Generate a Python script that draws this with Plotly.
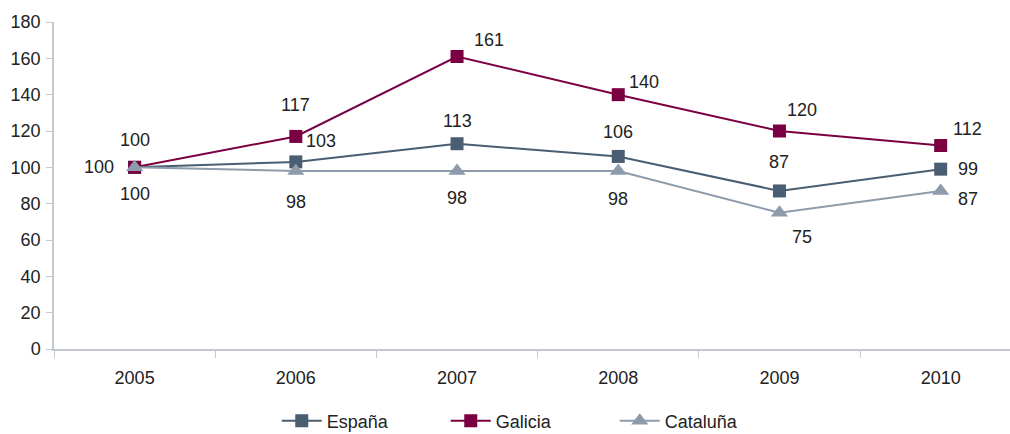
import plotly.graph_objects as go

years = ["2005", "2006", "2007", "2008", "2009", "2010"]
espana = [100, 103, 113, 106, 87, 99]
galicia = [100, 117, 161, 140, 120, 112]
cataluna = [100, 98, 98, 98, 75, 87]

series = [
    ("España", espana, "#4a5e72", "square", 13),
    ("Galicia", galicia, "#7a0041", "square", 13),
    ("Cataluña", cataluna, "#8d9bab", "triangle-up", 15),
]

# label pixel offsets (dx, dy) per series
offsets = {
    "España": [(-36, 0), (25, 21), (0, 23), (0, 24), (0, 29), (27, 0)],
    "Galicia": [(0, 27), (0, 31), (32, 17), (26, 13), (23, 21), (27, 17)],
    "Cataluña": [(0, -27), (0, -31), (0, -27), (0, -28), (23, -24), (27, -8)],
}

FONT = "Liberation Sans, Arial"
fig = go.Figure()
annotations = []
for name, vals, color, sym, size in series:
    fig.add_trace(go.Scatter(
        x=years, y=vals, name=name, mode="lines+markers",
        line=dict(color=color, width=2),
        marker=dict(symbol=sym, size=size, color=color),
    ))
    for i, v in enumerate(vals):
        dx, dy = offsets[name][i]
        annotations.append(dict(
            x=i, y=v, xref="x", yref="y", text=str(v), showarrow=False,
            xshift=dx, yshift=dy,
            font=dict(size=18, color="#222222", family=FONT),
        ))

fig.update_layout(
    width=1010, height=434, autosize=False,
    margin=dict(l=54, r=0, t=22, b=85),
    paper_bgcolor="white", plot_bgcolor="white",
    font=dict(family=FONT, size=18, color="#222222"),
    annotations=annotations,
    showlegend=True,
    legend=dict(orientation="h", x=0.525, xanchor="center", xref="container",
                y=0.03, yanchor="middle", yref="container",
                font=dict(size=18), itemwidth=40, entrywidth=114),
    xaxis=dict(type="category", range=[-0.5, 5.43], tickson="boundaries",
               ticks="outside", ticklen=7, tickcolor="#c4c9d1",
               showline=True, linecolor="#c4c9d1", linewidth=1.5,
               showgrid=False, zeroline=False, ticklabelstandoff=12,
               automargin=False),
    yaxis=dict(range=[0, 180], dtick=20, ticks="outside", ticklen=6,
               tickcolor="#c4c9d1", showline=True, linecolor="#c4c9d1", linewidth=1.5,
               showgrid=False, zeroline=False, automargin=False,
               ticklabelstandoff=2),
)

fig.write_html("out.html", config={"displayModeBar": False},
               post_script="document.body.style.margin='0';document.body.style.overflow='hidden';")
